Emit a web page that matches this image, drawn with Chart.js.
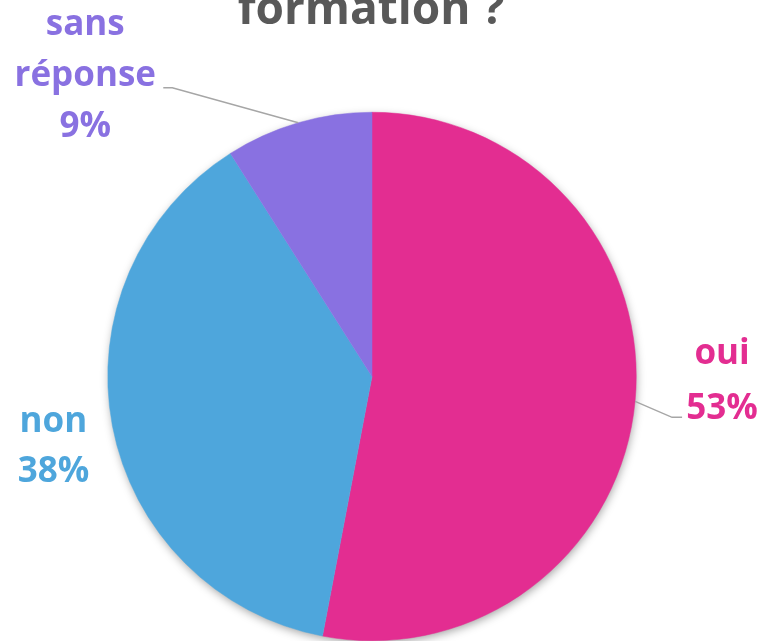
<!DOCTYPE html>
<html>
<head>
<meta charset="utf-8">
<script src="https://cdn.jsdelivr.net/npm/chart.js@4/dist/chart.umd.min.js"></script>
<style>
  html, body { margin: 0; padding: 0; background: #ffffff; }
  #wrap { position: relative; width: 768px; height: 641px; overflow: hidden; }
</style>
</head>
<body>
<div id="wrap"><canvas id="c" width="768" height="641"></canvas></div>
<script>
// ---- data ----
const titleText = 'formation ?';
const categories = ['oui', 'non', 'sans réponse'];
const labelWords = [['oui'], ['non'], ['sans', 'réponse']];
const values = [53, 38, 9];
const colors = ['#E32D91', '#4EA6DC', '#8971E1'];

// label placement (relative to slice mid-angle edge point)
const labelStyle = [
  { dx: 87, dy: -37, lh: 55, leader: [[37, 16], [47, 16]] },
  { dx: -59, dy: 6, lh: 50, leader: null },
  { dx: -213, dy: -88, lh: 51, leader: [[-126, -35], [-135, -35]] }
];

const FONT = '"Open Sans", "DejaVu Sans", sans-serif';

const shadowPlugin = {
  id: 'pieShadow',
  beforeDatasetsDraw(chart) {
    const arc = chart.getDatasetMeta(0).data[0];
    if (!arc) return;
    const ctx = chart.ctx;
    ctx.save();
    ctx.shadowColor = 'rgba(0,0,0,0.38)';
    ctx.shadowBlur = 10;
    ctx.shadowOffsetX = 1;
    ctx.shadowOffsetY = 3;
    ctx.fillStyle = '#ffffff';
    ctx.beginPath();
    ctx.arc(arc.x, arc.y, arc.outerRadius - 1, 0, Math.PI * 2);
    ctx.fill();
    ctx.restore();
  }
};

const titlePlugin = {
  id: 'cutTitle',
  afterDraw(chart) {
    const ctx = chart.ctx;
    const ca = chart.chartArea;
    ctx.save();
    ctx.font = 'bold 46px ' + FONT;
    ctx.fillStyle = '#595959';
    ctx.textAlign = 'center';
    ctx.textBaseline = 'alphabetic';
    ctx.fillText(titleText, (ca.left + ca.right) / 2 - 1, 24);
    ctx.restore();
  }
};

const labelPlugin = {
  id: 'sliceLabels',
  afterDatasetsDraw(chart) {
    const meta = chart.getDatasetMeta(0);
    const ctx = chart.ctx;
    const total = values.reduce((a, b) => a + b, 0);
    meta.data.forEach((arc, i) => {
      const mid = (arc.startAngle + arc.endAngle) / 2;
      const ex = arc.x + Math.cos(mid) * arc.outerRadius;
      const ey = arc.y + Math.sin(mid) * arc.outerRadius;
      const st = labelStyle[i];
      ctx.save();
      if (st.leader) {
        ctx.strokeStyle = '#A6A6A6';
        ctx.lineWidth = 1.5;
        ctx.beginPath();
        ctx.moveTo(ex, ey);
        st.leader.forEach(p => ctx.lineTo(ex + p[0], ey + p[1]));
        ctx.stroke();
      }
      const lines = labelWords[i].concat([Math.round(values[i] / total * 100) + '%']);
      ctx.font = 'bold 35px ' + FONT;
      ctx.fillStyle = colors[i];
      ctx.textAlign = 'center';
      ctx.textBaseline = 'alphabetic';
      lines.forEach((t, k) => {
        ctx.fillText(t, ex + st.dx, ey + st.dy + k * st.lh);
      });
      ctx.restore();
    });
  }
};

new Chart(document.getElementById('c'), {
  type: 'pie',
  data: {
    labels: categories,
    datasets: [{
      data: values,
      backgroundColor: colors,
      borderColor: colors,
      borderWidth: 0.5
    }]
  },
  options: {
    responsive: false,
    animation: false,
    layout: { padding: { left: 107, right: 131, top: 112, bottom: 0 } },
    plugins: {
      legend: { display: false },
      tooltip: { enabled: false },
      title: { display: false }
    }
  },
  plugins: [shadowPlugin, labelPlugin, titlePlugin]
});
</script>
</body>
</html>
